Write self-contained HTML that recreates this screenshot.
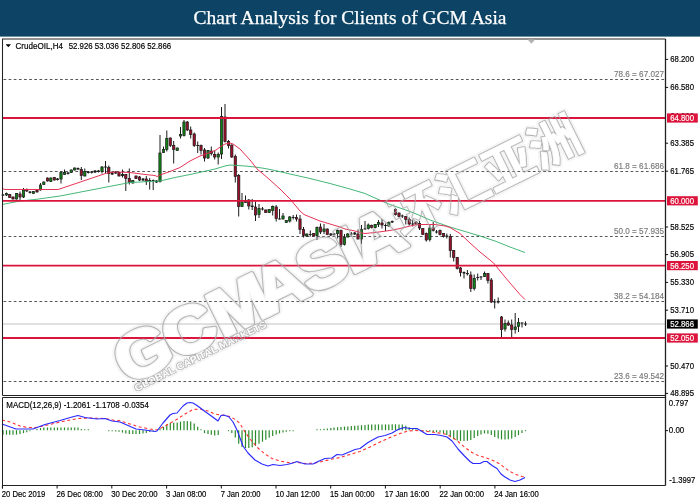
<!DOCTYPE html>
<html><head><meta charset="utf-8"><title>Chart Analysis for Clients of GCM Asia</title>
<style>
html,body{margin:0;padding:0;background:#fff;}
body{width:700px;height:500px;overflow:hidden;font-family:"Liberation Sans","Noto Sans CJK SC",sans-serif;}
svg{display:block}
.ax{font-family:"Liberation Sans",sans-serif;font-size:9.2px;fill:#000;stroke:#000;stroke-width:0.18px}
.fib{font-family:"Liberation Sans",sans-serif;font-size:9.2px;fill:#787878;stroke:#787878;stroke-width:0.15px}
.ttl{font-family:"Liberation Serif",serif;font-size:18.8px;fill:#fff;stroke:#fff;stroke-width:0.25px}
.wm{font-family:"Liberation Sans","Noto Sans CJK SC",sans-serif;font-weight:bold}
</style></head><body>
<svg width="700" height="500" viewBox="0 0 700 500">
<rect x="0" y="0" width="700" height="500" fill="#fff"/>
<rect x="0" y="0" width="700" height="36.6" fill="#0d4465"/>
<text class="ttl" x="350" y="24.4" text-anchor="middle" textLength="313" lengthAdjust="spacingAndGlyphs">Chart Analysis for Clients of GCM Asia</text>

<g stroke="#383838" stroke-width="0.85" stroke-dasharray="2.7,2.44" fill="none">
<line x1="3.5" y1="79.5" x2="665.5" y2="79.5"/>
<line x1="3.5" y1="171.5" x2="665.5" y2="171.5"/>
<line x1="3.5" y1="236.5" x2="665.5" y2="236.5"/>
<line x1="3.5" y1="301.5" x2="665.5" y2="301.5"/>
<line x1="3.5" y1="381.5" x2="665.5" y2="381.5"/>
</g>
<text class="fib" x="664" y="77.1" text-anchor="end" textLength="50" lengthAdjust="spacingAndGlyphs">78.6 = 67.027</text>
<text class="fib" x="664" y="169.1" text-anchor="end" textLength="50" lengthAdjust="spacingAndGlyphs">61.8 = 61.686</text>
<text class="fib" x="664" y="234.1" text-anchor="end" textLength="50" lengthAdjust="spacingAndGlyphs">50.0 = 57.935</text>
<text class="fib" x="664" y="299.1" text-anchor="end" textLength="50" lengthAdjust="spacingAndGlyphs">38.2 = 54.184</text>
<text class="fib" x="664" y="379.1" text-anchor="end" textLength="50" lengthAdjust="spacingAndGlyphs">23.6 = 49.542</text>
<line x1="2.5" y1="324" x2="665.5" y2="324" stroke="#c4c4c4" stroke-width="1.1"/>
<g>
<line x1="3" y1="194" x2="3" y2="196" stroke="#1c1c1c" stroke-width="1"/>
<rect x="1.6" y="194.5" width="2.8" height="1.0" fill="#1c1c1c"/>
<line x1="6.5" y1="192.5" x2="6.5" y2="196" stroke="#1c1c1c" stroke-width="1"/>
<rect x="5.35" y="193.5" width="2.3" height="1.5" fill="#0d8212" stroke="#1c1c1c" stroke-width="0.7"/>
<line x1="9.7" y1="194" x2="9.7" y2="198" stroke="#1c1c1c" stroke-width="1"/>
<rect x="8.55" y="194.5" width="2.3" height="3.0" fill="#9a0f28" stroke="#1c1c1c" stroke-width="0.7"/>
<line x1="13" y1="196.5" x2="13" y2="199.5" stroke="#1c1c1c" stroke-width="1"/>
<rect x="11.85" y="197" width="2.3" height="2.0" fill="#9a0f28" stroke="#1c1c1c" stroke-width="0.7"/>
<line x1="16.5" y1="193" x2="16.5" y2="199.5" stroke="#1c1c1c" stroke-width="1"/>
<rect x="15.35" y="193.5" width="2.3" height="5.5" fill="#0d8212" stroke="#1c1c1c" stroke-width="0.7"/>
<line x1="20" y1="191.5" x2="20" y2="200" stroke="#1c1c1c" stroke-width="1"/>
<rect x="18.85" y="194" width="2.3" height="3.0" fill="#9a0f28" stroke="#1c1c1c" stroke-width="0.7"/>
<line x1="23.5" y1="188" x2="23.5" y2="198" stroke="#1c1c1c" stroke-width="1"/>
<rect x="22.35" y="190" width="2.3" height="7.0" fill="#0d8212" stroke="#1c1c1c" stroke-width="0.7"/>
<line x1="26.8" y1="188.5" x2="26.8" y2="192" stroke="#1c1c1c" stroke-width="1"/>
<rect x="25.65" y="189.5" width="2.3" height="1.5" fill="#9a0f28" stroke="#1c1c1c" stroke-width="0.7"/>
<line x1="30" y1="191" x2="30" y2="193.5" stroke="#1c1c1c" stroke-width="1"/>
<rect x="28.6" y="191.5" width="2.8" height="1.5" fill="#1c1c1c"/>
<line x1="33.5" y1="191" x2="33.5" y2="194" stroke="#1c1c1c" stroke-width="1"/>
<rect x="32.35" y="191.5" width="2.3" height="2.0" fill="#0d8212" stroke="#1c1c1c" stroke-width="0.7"/>
<line x1="37" y1="189.5" x2="37" y2="192.5" stroke="#1c1c1c" stroke-width="1"/>
<rect x="35.85" y="190" width="2.3" height="2.0" fill="#9a0f28" stroke="#1c1c1c" stroke-width="0.7"/>
<line x1="40.5" y1="183" x2="40.5" y2="190.5" stroke="#1c1c1c" stroke-width="1"/>
<rect x="39.35" y="185" width="2.3" height="5.0" fill="#0d8212" stroke="#1c1c1c" stroke-width="0.7"/>
<line x1="43.8" y1="181.5" x2="43.8" y2="185" stroke="#1c1c1c" stroke-width="1"/>
<rect x="42.65" y="182" width="2.3" height="2.5" fill="#0d8212" stroke="#1c1c1c" stroke-width="0.7"/>
<line x1="47.5" y1="177.5" x2="47.5" y2="181.5" stroke="#1c1c1c" stroke-width="1"/>
<rect x="46.35" y="178" width="2.3" height="3.0" fill="#9a0f28" stroke="#1c1c1c" stroke-width="0.7"/>
<line x1="50.8" y1="177.5" x2="50.8" y2="182" stroke="#1c1c1c" stroke-width="1"/>
<rect x="49.65" y="178" width="2.3" height="3.5" fill="#0d8212" stroke="#1c1c1c" stroke-width="0.7"/>
<line x1="54.3" y1="177" x2="54.3" y2="180.5" stroke="#1c1c1c" stroke-width="1"/>
<rect x="53.15" y="177.5" width="2.3" height="2.5" fill="#9a0f28" stroke="#1c1c1c" stroke-width="0.7"/>
<line x1="57.5" y1="178" x2="57.5" y2="180.5" stroke="#1c1c1c" stroke-width="1"/>
<rect x="56.1" y="178.5" width="2.8" height="1.5" fill="#1c1c1c"/>
<line x1="61" y1="171.5" x2="61" y2="183.5" stroke="#1c1c1c" stroke-width="1"/>
<rect x="59.85" y="172.5" width="2.3" height="6.5" fill="#0d8212" stroke="#1c1c1c" stroke-width="0.7"/>
<line x1="64.5" y1="169.5" x2="64.5" y2="175" stroke="#1c1c1c" stroke-width="1"/>
<rect x="63.35" y="172.5" width="2.3" height="2.0" fill="#0d8212" stroke="#1c1c1c" stroke-width="0.7"/>
<line x1="68" y1="172" x2="68" y2="174.5" stroke="#1c1c1c" stroke-width="1"/>
<rect x="66.6" y="172.5" width="2.8" height="1.5" fill="#1c1c1c"/>
<line x1="71.2" y1="169.5" x2="71.2" y2="173" stroke="#1c1c1c" stroke-width="1"/>
<rect x="70.05" y="170" width="2.3" height="2.5" fill="#0d8212" stroke="#1c1c1c" stroke-width="0.7"/>
<line x1="74.7" y1="167.5" x2="74.7" y2="170.5" stroke="#1c1c1c" stroke-width="1"/>
<rect x="73.55" y="168" width="2.3" height="2.0" fill="#0d8212" stroke="#1c1c1c" stroke-width="0.7"/>
<line x1="78" y1="167.5" x2="78" y2="170" stroke="#1c1c1c" stroke-width="1"/>
<rect x="76.6" y="168" width="2.8" height="1.5" fill="#1c1c1c"/>
<line x1="81.3" y1="167" x2="81.3" y2="180" stroke="#1c1c1c" stroke-width="1"/>
<rect x="80.15" y="169.5" width="2.3" height="6.0" fill="#9a0f28" stroke="#1c1c1c" stroke-width="0.7"/>
<line x1="84.8" y1="168.5" x2="84.8" y2="176.5" stroke="#1c1c1c" stroke-width="1"/>
<rect x="83.65" y="171.5" width="2.3" height="4.5" fill="#0d8212" stroke="#1c1c1c" stroke-width="0.7"/>
<line x1="88.3" y1="171" x2="88.3" y2="173.5" stroke="#1c1c1c" stroke-width="1"/>
<rect x="86.9" y="171.5" width="2.8" height="1.5" fill="#1c1c1c"/>
<line x1="91.7" y1="171" x2="91.7" y2="173.5" stroke="#1c1c1c" stroke-width="1"/>
<rect x="90.3" y="171.5" width="2.8" height="1.3" fill="#1c1c1c"/>
<line x1="95" y1="170" x2="95" y2="173" stroke="#1c1c1c" stroke-width="1"/>
<rect x="93.6" y="170.5" width="2.8" height="2.0" fill="#1c1c1c"/>
<line x1="98.5" y1="170" x2="98.5" y2="172.5" stroke="#1c1c1c" stroke-width="1"/>
<rect x="97.1" y="170.5" width="2.8" height="1.5" fill="#1c1c1c"/>
<line x1="102" y1="166" x2="102" y2="173.5" stroke="#1c1c1c" stroke-width="1"/>
<rect x="100.85" y="167" width="2.3" height="4.5" fill="#0d8212" stroke="#1c1c1c" stroke-width="0.7"/>
<line x1="105.5" y1="161" x2="105.5" y2="173" stroke="#1c1c1c" stroke-width="1"/>
<rect x="104.1" y="166.5" width="2.8" height="1.0" fill="#1c1c1c"/>
<line x1="108.8" y1="165.5" x2="108.8" y2="182.5" stroke="#1c1c1c" stroke-width="1"/>
<rect x="107.65" y="167.5" width="2.3" height="6.0" fill="#9a0f28" stroke="#1c1c1c" stroke-width="0.7"/>
<line x1="112.2" y1="172" x2="112.2" y2="175" stroke="#1c1c1c" stroke-width="1"/>
<rect x="110.8" y="172.5" width="2.8" height="2.0" fill="#1c1c1c"/>
<line x1="115.7" y1="171" x2="115.7" y2="174" stroke="#1c1c1c" stroke-width="1"/>
<rect x="114.3" y="171.5" width="2.8" height="2.0" fill="#1c1c1c"/>
<line x1="119" y1="172" x2="119" y2="176.5" stroke="#1c1c1c" stroke-width="1"/>
<rect x="117.85" y="172.5" width="2.3" height="3.5" fill="#9a0f28" stroke="#1c1c1c" stroke-width="0.7"/>
<line x1="122.5" y1="169.5" x2="122.5" y2="177.5" stroke="#1c1c1c" stroke-width="1"/>
<rect x="121.1" y="174" width="2.8" height="2.0" fill="#1c1c1c"/>
<line x1="125.8" y1="174" x2="125.8" y2="191" stroke="#1c1c1c" stroke-width="1"/>
<rect x="124.65" y="174.5" width="2.3" height="4.0" fill="#9a0f28" stroke="#1c1c1c" stroke-width="0.7"/>
<line x1="129.3" y1="168.5" x2="129.3" y2="184.5" stroke="#1c1c1c" stroke-width="1"/>
<rect x="128.15" y="178.5" width="2.3" height="4.0" fill="#9a0f28" stroke="#1c1c1c" stroke-width="0.7"/>
<line x1="132.8" y1="180" x2="132.8" y2="183.5" stroke="#1c1c1c" stroke-width="1"/>
<rect x="131.65" y="180.5" width="2.3" height="2.5" fill="#0d8212" stroke="#1c1c1c" stroke-width="0.7"/>
<line x1="136" y1="175.5" x2="136" y2="179" stroke="#1c1c1c" stroke-width="1"/>
<rect x="134.85" y="176" width="2.3" height="2.5" fill="#9a0f28" stroke="#1c1c1c" stroke-width="0.7"/>
<line x1="139.5" y1="176" x2="139.5" y2="181" stroke="#1c1c1c" stroke-width="1"/>
<rect x="138.35" y="177" width="2.3" height="3.0" fill="#9a0f28" stroke="#1c1c1c" stroke-width="0.7"/>
<line x1="143" y1="178" x2="143" y2="181" stroke="#1c1c1c" stroke-width="1"/>
<rect x="141.6" y="178.5" width="2.8" height="2.0" fill="#1c1c1c"/>
<line x1="146.3" y1="176" x2="146.3" y2="185" stroke="#1c1c1c" stroke-width="1"/>
<rect x="145.15" y="179" width="2.3" height="2.5" fill="#9a0f28" stroke="#1c1c1c" stroke-width="0.7"/>
<line x1="149.7" y1="178" x2="149.7" y2="189.5" stroke="#1c1c1c" stroke-width="1"/>
<rect x="148.3" y="180" width="2.8" height="1.5" fill="#1c1c1c"/>
<line x1="153.2" y1="179.5" x2="153.2" y2="190" stroke="#1c1c1c" stroke-width="1"/>
<rect x="151.8" y="180" width="2.8" height="1.0" fill="#1c1c1c"/>
<line x1="156.5" y1="180" x2="156.5" y2="183" stroke="#1c1c1c" stroke-width="1"/>
<rect x="155.1" y="180.5" width="2.8" height="2.0" fill="#1c1c1c"/>
<line x1="160" y1="135" x2="160" y2="182.5" stroke="#1c1c1c" stroke-width="1"/>
<rect x="158.85" y="153" width="2.3" height="28.5" fill="#0d8212" stroke="#1c1c1c" stroke-width="0.7"/>
<line x1="163.5" y1="146.5" x2="163.5" y2="153" stroke="#1c1c1c" stroke-width="1"/>
<rect x="162.35" y="149.5" width="2.3" height="3.0" fill="#0d8212" stroke="#1c1c1c" stroke-width="0.7"/>
<line x1="166.8" y1="130.5" x2="166.8" y2="151.5" stroke="#1c1c1c" stroke-width="1"/>
<rect x="165.65" y="138.5" width="2.3" height="11.0" fill="#0d8212" stroke="#1c1c1c" stroke-width="0.7"/>
<line x1="170.3" y1="137.5" x2="170.3" y2="147" stroke="#1c1c1c" stroke-width="1"/>
<rect x="169.15" y="138" width="2.3" height="7.5" fill="#9a0f28" stroke="#1c1c1c" stroke-width="0.7"/>
<line x1="173.7" y1="141" x2="173.7" y2="163.5" stroke="#1c1c1c" stroke-width="1"/>
<rect x="172.55" y="145.5" width="2.3" height="4.0" fill="#9a0f28" stroke="#1c1c1c" stroke-width="0.7"/>
<line x1="177.2" y1="147.5" x2="177.2" y2="151" stroke="#1c1c1c" stroke-width="1"/>
<rect x="176.05" y="148" width="2.3" height="2.5" fill="#0d8212" stroke="#1c1c1c" stroke-width="0.7"/>
<line x1="180.5" y1="127" x2="180.5" y2="138.5" stroke="#1c1c1c" stroke-width="1"/>
<rect x="179.35" y="134.5" width="2.3" height="1.5" fill="#0d8212" stroke="#1c1c1c" stroke-width="0.7"/>
<line x1="184" y1="120" x2="184" y2="136.5" stroke="#1c1c1c" stroke-width="1"/>
<rect x="182.85" y="122" width="2.3" height="13.5" fill="#0d8212" stroke="#1c1c1c" stroke-width="0.7"/>
<line x1="187.3" y1="121" x2="187.3" y2="131" stroke="#1c1c1c" stroke-width="1"/>
<rect x="186.15" y="122" width="2.3" height="8.0" fill="#9a0f28" stroke="#1c1c1c" stroke-width="0.7"/>
<line x1="190.7" y1="126.5" x2="190.7" y2="138.5" stroke="#1c1c1c" stroke-width="1"/>
<rect x="189.55" y="130" width="2.3" height="4.5" fill="#9a0f28" stroke="#1c1c1c" stroke-width="0.7"/>
<line x1="194.2" y1="132.5" x2="194.2" y2="147" stroke="#1c1c1c" stroke-width="1"/>
<rect x="193.05" y="134" width="2.3" height="11.5" fill="#9a0f28" stroke="#1c1c1c" stroke-width="0.7"/>
<line x1="197.7" y1="141.5" x2="197.7" y2="153" stroke="#1c1c1c" stroke-width="1"/>
<rect x="196.3" y="145" width="2.8" height="1.0" fill="#1c1c1c"/>
<line x1="201" y1="144.5" x2="201" y2="154.5" stroke="#1c1c1c" stroke-width="1"/>
<rect x="199.85" y="145.5" width="2.3" height="5.0" fill="#9a0f28" stroke="#1c1c1c" stroke-width="0.7"/>
<line x1="204.5" y1="148" x2="204.5" y2="161.5" stroke="#1c1c1c" stroke-width="1"/>
<rect x="203.35" y="150" width="2.3" height="8.0" fill="#9a0f28" stroke="#1c1c1c" stroke-width="0.7"/>
<line x1="208" y1="150" x2="208" y2="159" stroke="#1c1c1c" stroke-width="1"/>
<rect x="206.85" y="150.5" width="2.3" height="7.5" fill="#0d8212" stroke="#1c1c1c" stroke-width="0.7"/>
<line x1="211.3" y1="146.5" x2="211.3" y2="155.5" stroke="#1c1c1c" stroke-width="1"/>
<rect x="210.15" y="151" width="2.3" height="2.5" fill="#9a0f28" stroke="#1c1c1c" stroke-width="0.7"/>
<line x1="214.7" y1="151" x2="214.7" y2="159.5" stroke="#1c1c1c" stroke-width="1"/>
<rect x="213.55" y="154.5" width="2.3" height="2.5" fill="#9a0f28" stroke="#1c1c1c" stroke-width="0.7"/>
<line x1="218.2" y1="152.5" x2="218.2" y2="164.5" stroke="#1c1c1c" stroke-width="1"/>
<rect x="217.05" y="154.5" width="2.3" height="2.5" fill="#0d8212" stroke="#1c1c1c" stroke-width="0.7"/>
<line x1="221.5" y1="107" x2="221.5" y2="159" stroke="#1c1c1c" stroke-width="1"/>
<rect x="220.35" y="116.5" width="2.3" height="37.5" fill="#0d8212" stroke="#1c1c1c" stroke-width="0.7"/>
<line x1="225" y1="104" x2="225" y2="142.5" stroke="#1c1c1c" stroke-width="1"/>
<rect x="223.85" y="117" width="2.3" height="24.5" fill="#9a0f28" stroke="#1c1c1c" stroke-width="0.7"/>
<line x1="228.5" y1="140" x2="228.5" y2="148.5" stroke="#1c1c1c" stroke-width="1"/>
<rect x="227.35" y="141.5" width="2.3" height="4.0" fill="#9a0f28" stroke="#1c1c1c" stroke-width="0.7"/>
<line x1="231.8" y1="144.5" x2="231.8" y2="158" stroke="#1c1c1c" stroke-width="1"/>
<rect x="230.65" y="145" width="2.3" height="12.0" fill="#9a0f28" stroke="#1c1c1c" stroke-width="0.7"/>
<line x1="235.3" y1="154.5" x2="235.3" y2="182.5" stroke="#1c1c1c" stroke-width="1"/>
<rect x="234.15" y="156.5" width="2.3" height="20.0" fill="#9a0f28" stroke="#1c1c1c" stroke-width="0.7"/>
<line x1="238.7" y1="174" x2="238.7" y2="216.5" stroke="#1c1c1c" stroke-width="1"/>
<rect x="237.55" y="175.5" width="2.3" height="31.0" fill="#9a0f28" stroke="#1c1c1c" stroke-width="0.7"/>
<line x1="242" y1="193" x2="242" y2="207" stroke="#1c1c1c" stroke-width="1"/>
<rect x="240.85" y="202" width="2.3" height="4.5" fill="#0d8212" stroke="#1c1c1c" stroke-width="0.7"/>
<line x1="245.5" y1="195.5" x2="245.5" y2="203" stroke="#1c1c1c" stroke-width="1"/>
<rect x="244.35" y="200.5" width="2.3" height="2.0" fill="#0d8212" stroke="#1c1c1c" stroke-width="0.7"/>
<line x1="248.8" y1="199" x2="248.8" y2="209.5" stroke="#1c1c1c" stroke-width="1"/>
<rect x="247.65" y="200" width="2.3" height="6.0" fill="#9a0f28" stroke="#1c1c1c" stroke-width="0.7"/>
<line x1="252.2" y1="199" x2="252.2" y2="210" stroke="#1c1c1c" stroke-width="1"/>
<rect x="250.8" y="205.5" width="2.8" height="1.5" fill="#1c1c1c"/>
<line x1="255.5" y1="201.5" x2="255.5" y2="221" stroke="#1c1c1c" stroke-width="1"/>
<rect x="254.35" y="207" width="2.3" height="8.0" fill="#9a0f28" stroke="#1c1c1c" stroke-width="0.7"/>
<line x1="259" y1="204" x2="259" y2="218" stroke="#1c1c1c" stroke-width="1"/>
<rect x="257.85" y="208.5" width="2.3" height="6.0" fill="#0d8212" stroke="#1c1c1c" stroke-width="0.7"/>
<line x1="262.5" y1="207" x2="262.5" y2="210.5" stroke="#1c1c1c" stroke-width="1"/>
<rect x="261.1" y="208.5" width="2.8" height="1.0" fill="#1c1c1c"/>
<line x1="265.8" y1="209.5" x2="265.8" y2="213" stroke="#1c1c1c" stroke-width="1"/>
<rect x="264.65" y="210" width="2.3" height="2.5" fill="#9a0f28" stroke="#1c1c1c" stroke-width="0.7"/>
<line x1="269.2" y1="209" x2="269.2" y2="213" stroke="#1c1c1c" stroke-width="1"/>
<rect x="268.05" y="209.5" width="2.3" height="3.0" fill="#0d8212" stroke="#1c1c1c" stroke-width="0.7"/>
<line x1="272.7" y1="205.5" x2="272.7" y2="215.5" stroke="#1c1c1c" stroke-width="1"/>
<rect x="271.55" y="206.5" width="2.3" height="4.0" fill="#0d8212" stroke="#1c1c1c" stroke-width="0.7"/>
<line x1="276.2" y1="205" x2="276.2" y2="221.5" stroke="#1c1c1c" stroke-width="1"/>
<rect x="275.05" y="207" width="2.3" height="11.5" fill="#9a0f28" stroke="#1c1c1c" stroke-width="0.7"/>
<line x1="279.5" y1="209" x2="279.5" y2="219.5" stroke="#1c1c1c" stroke-width="1"/>
<rect x="278.1" y="218.5" width="2.8" height="1.0" fill="#1c1c1c"/>
<line x1="283" y1="213" x2="283" y2="219.5" stroke="#1c1c1c" stroke-width="1"/>
<rect x="281.85" y="216" width="2.3" height="3.0" fill="#0d8212" stroke="#1c1c1c" stroke-width="0.7"/>
<line x1="286.3" y1="220" x2="286.3" y2="223" stroke="#1c1c1c" stroke-width="1"/>
<rect x="285.15" y="220.5" width="2.3" height="2.0" fill="#0d8212" stroke="#1c1c1c" stroke-width="0.7"/>
<line x1="289.8" y1="216" x2="289.8" y2="222.5" stroke="#1c1c1c" stroke-width="1"/>
<rect x="288.65" y="217" width="2.3" height="4.0" fill="#0d8212" stroke="#1c1c1c" stroke-width="0.7"/>
<line x1="293.2" y1="215" x2="293.2" y2="219.5" stroke="#1c1c1c" stroke-width="1"/>
<rect x="291.8" y="217" width="2.8" height="1.0" fill="#1c1c1c"/>
<line x1="296.5" y1="214.5" x2="296.5" y2="221.5" stroke="#1c1c1c" stroke-width="1"/>
<rect x="295.35" y="217.5" width="2.3" height="1.5" fill="#9a0f28" stroke="#1c1c1c" stroke-width="0.7"/>
<line x1="300" y1="215" x2="300" y2="234" stroke="#1c1c1c" stroke-width="1"/>
<rect x="298.85" y="219" width="2.3" height="10.5" fill="#9a0f28" stroke="#1c1c1c" stroke-width="0.7"/>
<line x1="303.5" y1="227" x2="303.5" y2="237.5" stroke="#1c1c1c" stroke-width="1"/>
<rect x="302.35" y="229.5" width="2.3" height="6.0" fill="#9a0f28" stroke="#1c1c1c" stroke-width="0.7"/>
<line x1="306.8" y1="233.5" x2="306.8" y2="237" stroke="#1c1c1c" stroke-width="1"/>
<rect x="305.65" y="234" width="2.3" height="2.0" fill="#0d8212" stroke="#1c1c1c" stroke-width="0.7"/>
<line x1="310.3" y1="230.5" x2="310.3" y2="236.5" stroke="#1c1c1c" stroke-width="1"/>
<rect x="308.9" y="234" width="2.8" height="1.0" fill="#1c1c1c"/>
<line x1="313.7" y1="233" x2="313.7" y2="236.5" stroke="#1c1c1c" stroke-width="1"/>
<rect x="312.55" y="233.5" width="2.3" height="2.5" fill="#9a0f28" stroke="#1c1c1c" stroke-width="0.7"/>
<line x1="317" y1="226.5" x2="317" y2="240" stroke="#1c1c1c" stroke-width="1"/>
<rect x="315.85" y="227.5" width="2.3" height="8.0" fill="#0d8212" stroke="#1c1c1c" stroke-width="0.7"/>
<line x1="320.5" y1="223.5" x2="320.5" y2="234" stroke="#1c1c1c" stroke-width="1"/>
<rect x="319.35" y="227" width="2.3" height="5.0" fill="#9a0f28" stroke="#1c1c1c" stroke-width="0.7"/>
<line x1="324" y1="224" x2="324" y2="234" stroke="#1c1c1c" stroke-width="1"/>
<rect x="322.85" y="229" width="2.3" height="2.5" fill="#0d8212" stroke="#1c1c1c" stroke-width="0.7"/>
<line x1="327.3" y1="228.5" x2="327.3" y2="235" stroke="#1c1c1c" stroke-width="1"/>
<rect x="326.15" y="229" width="2.3" height="5.5" fill="#9a0f28" stroke="#1c1c1c" stroke-width="0.7"/>
<line x1="330.8" y1="233" x2="330.8" y2="236" stroke="#1c1c1c" stroke-width="1"/>
<rect x="329.4" y="233.5" width="2.8" height="2.0" fill="#1c1c1c"/>
<line x1="334" y1="233" x2="334" y2="235.5" stroke="#1c1c1c" stroke-width="1"/>
<rect x="332.6" y="233.5" width="2.8" height="1.5" fill="#1c1c1c"/>
<line x1="337.6" y1="229.5" x2="337.6" y2="238.5" stroke="#1c1c1c" stroke-width="1"/>
<rect x="336.45" y="230.5" width="2.3" height="3.0" fill="#0d8212" stroke="#1c1c1c" stroke-width="0.7"/>
<line x1="341" y1="229.5" x2="341" y2="247" stroke="#1c1c1c" stroke-width="1"/>
<rect x="339.85" y="230.5" width="2.3" height="14.0" fill="#9a0f28" stroke="#1c1c1c" stroke-width="0.7"/>
<line x1="344.5" y1="234" x2="344.5" y2="245.5" stroke="#1c1c1c" stroke-width="1"/>
<rect x="343.35" y="237.5" width="2.3" height="7.0" fill="#0d8212" stroke="#1c1c1c" stroke-width="0.7"/>
<line x1="347.8" y1="233" x2="347.8" y2="237.5" stroke="#1c1c1c" stroke-width="1"/>
<rect x="346.65" y="234" width="2.3" height="3.0" fill="#0d8212" stroke="#1c1c1c" stroke-width="0.7"/>
<line x1="351.3" y1="232" x2="351.3" y2="236.5" stroke="#1c1c1c" stroke-width="1"/>
<rect x="349.9" y="233.5" width="2.8" height="1.0" fill="#1c1c1c"/>
<line x1="354.7" y1="232" x2="354.7" y2="235" stroke="#1c1c1c" stroke-width="1"/>
<rect x="353.3" y="232.5" width="2.8" height="2.0" fill="#1c1c1c"/>
<line x1="358" y1="229.5" x2="358" y2="239.5" stroke="#1c1c1c" stroke-width="1"/>
<rect x="356.85" y="234" width="2.3" height="5.0" fill="#9a0f28" stroke="#1c1c1c" stroke-width="0.7"/>
<line x1="361.5" y1="225" x2="361.5" y2="244" stroke="#1c1c1c" stroke-width="1"/>
<rect x="360.35" y="229.5" width="2.3" height="9.5" fill="#0d8212" stroke="#1c1c1c" stroke-width="0.7"/>
<line x1="365" y1="221" x2="365" y2="229.5" stroke="#1c1c1c" stroke-width="1"/>
<rect x="363.6" y="228.5" width="2.8" height="1.0" fill="#1c1c1c"/>
<line x1="368.3" y1="223.5" x2="368.3" y2="229.5" stroke="#1c1c1c" stroke-width="1"/>
<rect x="367.15" y="225" width="2.3" height="3.5" fill="#0d8212" stroke="#1c1c1c" stroke-width="0.7"/>
<line x1="371.7" y1="224.5" x2="371.7" y2="228.5" stroke="#1c1c1c" stroke-width="1"/>
<rect x="370.55" y="225.5" width="2.3" height="2.0" fill="#9a0f28" stroke="#1c1c1c" stroke-width="0.7"/>
<line x1="375.2" y1="224" x2="375.2" y2="228.5" stroke="#1c1c1c" stroke-width="1"/>
<rect x="374.05" y="224.5" width="2.3" height="3.0" fill="#0d8212" stroke="#1c1c1c" stroke-width="0.7"/>
<line x1="378.5" y1="220" x2="378.5" y2="227" stroke="#1c1c1c" stroke-width="1"/>
<rect x="377.35" y="222.5" width="2.3" height="2.0" fill="#0d8212" stroke="#1c1c1c" stroke-width="0.7"/>
<line x1="382" y1="219" x2="382" y2="228.5" stroke="#1c1c1c" stroke-width="1"/>
<rect x="380.85" y="223" width="2.3" height="2.0" fill="#9a0f28" stroke="#1c1c1c" stroke-width="0.7"/>
<line x1="385.5" y1="223.5" x2="385.5" y2="231" stroke="#1c1c1c" stroke-width="1"/>
<rect x="384.1" y="225" width="2.8" height="1.0" fill="#1c1c1c"/>
<line x1="388.8" y1="221.5" x2="388.8" y2="226.5" stroke="#1c1c1c" stroke-width="1"/>
<rect x="387.65" y="222.5" width="2.3" height="3.5" fill="#0d8212" stroke="#1c1c1c" stroke-width="0.7"/>
<line x1="392.2" y1="220.5" x2="392.2" y2="223" stroke="#1c1c1c" stroke-width="1"/>
<rect x="390.8" y="221" width="2.8" height="1.5" fill="#1c1c1c"/>
<line x1="395.5" y1="208" x2="395.5" y2="215.5" stroke="#1c1c1c" stroke-width="1"/>
<rect x="394.35" y="209.5" width="2.3" height="5.0" fill="#9a0f28" stroke="#1c1c1c" stroke-width="0.7"/>
<line x1="399" y1="212.5" x2="399" y2="217.5" stroke="#1c1c1c" stroke-width="1"/>
<rect x="397.85" y="213" width="2.3" height="3.5" fill="#9a0f28" stroke="#1c1c1c" stroke-width="0.7"/>
<line x1="402.3" y1="214.5" x2="402.3" y2="218" stroke="#1c1c1c" stroke-width="1"/>
<rect x="400.9" y="215.5" width="2.8" height="1.0" fill="#1c1c1c"/>
<line x1="405.8" y1="216" x2="405.8" y2="224.5" stroke="#1c1c1c" stroke-width="1"/>
<rect x="404.65" y="216.5" width="2.3" height="3.0" fill="#9a0f28" stroke="#1c1c1c" stroke-width="0.7"/>
<line x1="409.2" y1="217.5" x2="409.2" y2="225.5" stroke="#1c1c1c" stroke-width="1"/>
<rect x="408.05" y="219.5" width="2.3" height="4.5" fill="#9a0f28" stroke="#1c1c1c" stroke-width="0.7"/>
<line x1="412.7" y1="220" x2="412.7" y2="226.5" stroke="#1c1c1c" stroke-width="1"/>
<rect x="411.3" y="223.5" width="2.8" height="1.0" fill="#1c1c1c"/>
<line x1="416" y1="221.5" x2="416" y2="224.5" stroke="#1c1c1c" stroke-width="1"/>
<rect x="414.85" y="222" width="2.3" height="2.0" fill="#9a0f28" stroke="#1c1c1c" stroke-width="0.7"/>
<line x1="419.5" y1="221" x2="419.5" y2="230" stroke="#1c1c1c" stroke-width="1"/>
<rect x="418.35" y="223.5" width="2.3" height="4.5" fill="#9a0f28" stroke="#1c1c1c" stroke-width="0.7"/>
<line x1="422.8" y1="228" x2="422.8" y2="235" stroke="#1c1c1c" stroke-width="1"/>
<rect x="421.65" y="228.5" width="2.3" height="6.0" fill="#9a0f28" stroke="#1c1c1c" stroke-width="0.7"/>
<line x1="426.3" y1="232.5" x2="426.3" y2="241.5" stroke="#1c1c1c" stroke-width="1"/>
<rect x="425.15" y="233.5" width="2.3" height="6.5" fill="#9a0f28" stroke="#1c1c1c" stroke-width="0.7"/>
<line x1="429.8" y1="225" x2="429.8" y2="241.5" stroke="#1c1c1c" stroke-width="1"/>
<rect x="428.65" y="228" width="2.3" height="11.5" fill="#0d8212" stroke="#1c1c1c" stroke-width="0.7"/>
<line x1="433.2" y1="222" x2="433.2" y2="231.5" stroke="#1c1c1c" stroke-width="1"/>
<rect x="432.05" y="228" width="2.3" height="2.5" fill="#9a0f28" stroke="#1c1c1c" stroke-width="0.7"/>
<line x1="436.5" y1="230" x2="436.5" y2="233.5" stroke="#1c1c1c" stroke-width="1"/>
<rect x="435.1" y="231.5" width="2.8" height="1.0" fill="#1c1c1c"/>
<line x1="440" y1="229.5" x2="440" y2="235.5" stroke="#1c1c1c" stroke-width="1"/>
<rect x="438.85" y="230.5" width="2.3" height="4.0" fill="#9a0f28" stroke="#1c1c1c" stroke-width="0.7"/>
<line x1="443.5" y1="233" x2="443.5" y2="237.5" stroke="#1c1c1c" stroke-width="1"/>
<rect x="442.35" y="233.5" width="2.3" height="3.0" fill="#9a0f28" stroke="#1c1c1c" stroke-width="0.7"/>
<line x1="446.8" y1="233.5" x2="446.8" y2="238.5" stroke="#1c1c1c" stroke-width="1"/>
<rect x="445.4" y="235.5" width="2.8" height="1.0" fill="#1c1c1c"/>
<line x1="450.3" y1="234" x2="450.3" y2="257.5" stroke="#1c1c1c" stroke-width="1"/>
<rect x="449.15" y="236.5" width="2.3" height="14.0" fill="#9a0f28" stroke="#1c1c1c" stroke-width="0.7"/>
<line x1="453.7" y1="250" x2="453.7" y2="261.5" stroke="#1c1c1c" stroke-width="1"/>
<rect x="452.55" y="250.5" width="2.3" height="7.0" fill="#9a0f28" stroke="#1c1c1c" stroke-width="0.7"/>
<line x1="457.2" y1="257" x2="457.2" y2="269.5" stroke="#1c1c1c" stroke-width="1"/>
<rect x="456.05" y="257.5" width="2.3" height="11.0" fill="#9a0f28" stroke="#1c1c1c" stroke-width="0.7"/>
<line x1="460.5" y1="267" x2="460.5" y2="276.5" stroke="#1c1c1c" stroke-width="1"/>
<rect x="459.35" y="268" width="2.3" height="4.5" fill="#9a0f28" stroke="#1c1c1c" stroke-width="0.7"/>
<line x1="464" y1="271.5" x2="464" y2="278.5" stroke="#1c1c1c" stroke-width="1"/>
<rect x="462.6" y="272" width="2.8" height="1.5" fill="#1c1c1c"/>
<line x1="467.4" y1="270" x2="467.4" y2="275.5" stroke="#1c1c1c" stroke-width="1"/>
<rect x="466.0" y="273" width="2.8" height="1.2" fill="#1c1c1c"/>
<line x1="470.8" y1="271.5" x2="470.8" y2="292" stroke="#1c1c1c" stroke-width="1"/>
<rect x="469.65" y="275" width="2.3" height="13.5" fill="#9a0f28" stroke="#1c1c1c" stroke-width="0.7"/>
<line x1="474.2" y1="274.5" x2="474.2" y2="290.5" stroke="#1c1c1c" stroke-width="1"/>
<rect x="473.05" y="278.5" width="2.3" height="10.0" fill="#0d8212" stroke="#1c1c1c" stroke-width="0.7"/>
<line x1="477.7" y1="273.5" x2="477.7" y2="280.5" stroke="#1c1c1c" stroke-width="1"/>
<rect x="476.3" y="277" width="2.8" height="1.0" fill="#1c1c1c"/>
<line x1="481" y1="276" x2="481" y2="280" stroke="#1c1c1c" stroke-width="1"/>
<rect x="479.6" y="276.5" width="2.8" height="1.0" fill="#1c1c1c"/>
<line x1="484.5" y1="271.5" x2="484.5" y2="277" stroke="#1c1c1c" stroke-width="1"/>
<rect x="483.35" y="273.5" width="2.3" height="3.0" fill="#0d8212" stroke="#1c1c1c" stroke-width="0.7"/>
<line x1="487.9" y1="273" x2="487.9" y2="283.5" stroke="#1c1c1c" stroke-width="1"/>
<rect x="486.75" y="273.5" width="2.3" height="7.0" fill="#9a0f28" stroke="#1c1c1c" stroke-width="0.7"/>
<line x1="491.3" y1="278" x2="491.3" y2="303" stroke="#1c1c1c" stroke-width="1"/>
<rect x="490.15" y="280" width="2.3" height="22.0" fill="#9a0f28" stroke="#1c1c1c" stroke-width="0.7"/>
<line x1="494.7" y1="299" x2="494.7" y2="308.5" stroke="#1c1c1c" stroke-width="1"/>
<rect x="493.3" y="301.5" width="2.8" height="1.0" fill="#1c1c1c"/>
<line x1="498.2" y1="297.5" x2="498.2" y2="303.5" stroke="#1c1c1c" stroke-width="1"/>
<rect x="496.8" y="301" width="2.8" height="1.5" fill="#1c1c1c"/>
<line x1="501.5" y1="316" x2="501.5" y2="337.5" stroke="#1c1c1c" stroke-width="1"/>
<rect x="500.35" y="317" width="2.3" height="12.5" fill="#9a0f28" stroke="#1c1c1c" stroke-width="0.7"/>
<line x1="505" y1="319.5" x2="505" y2="331.5" stroke="#1c1c1c" stroke-width="1"/>
<rect x="503.85" y="323.5" width="2.3" height="5.5" fill="#0d8212" stroke="#1c1c1c" stroke-width="0.7"/>
<line x1="508.3" y1="320.5" x2="508.3" y2="326" stroke="#1c1c1c" stroke-width="1"/>
<rect x="507.15" y="323" width="2.3" height="2.0" fill="#9a0f28" stroke="#1c1c1c" stroke-width="0.7"/>
<line x1="511.7" y1="319.5" x2="511.7" y2="337.5" stroke="#1c1c1c" stroke-width="1"/>
<rect x="510.55" y="325" width="2.3" height="4.5" fill="#9a0f28" stroke="#1c1c1c" stroke-width="0.7"/>
<line x1="515.2" y1="313" x2="515.2" y2="333.5" stroke="#1c1c1c" stroke-width="1"/>
<rect x="514.05" y="327" width="2.3" height="2.5" fill="#0d8212" stroke="#1c1c1c" stroke-width="0.7"/>
<line x1="518.5" y1="318" x2="518.5" y2="332" stroke="#1c1c1c" stroke-width="1"/>
<rect x="517.35" y="322.5" width="2.3" height="4.0" fill="#0d8212" stroke="#1c1c1c" stroke-width="0.7"/>
<line x1="522" y1="322.5" x2="522" y2="327.5" stroke="#1c1c1c" stroke-width="1"/>
<rect x="520.6" y="322.5" width="2.8" height="1.0" fill="#1c1c1c"/>
<line x1="525.5" y1="321.5" x2="525.5" y2="326" stroke="#1c1c1c" stroke-width="1"/>
<rect x="524.1" y="323.5" width="2.8" height="1.0" fill="#1c1c1c"/>
</g>
<polyline points="2.0,204.5 20.0,201.0 35.0,199.5 60.0,196.0 130.0,182.5 150.0,181.5 160.0,181.0 175.0,177.5 190.0,174.5 215.0,169.0 225.0,166.0 230.0,165.0 245.0,166.0 255.0,167.0 265.0,168.5 275.0,170.5 290.0,174.0 310.0,178.5 330.0,183.5 350.0,189.0 365.0,193.5 375.0,198.0 383.0,201.5 390.0,204.5 400.0,208.0 410.0,211.5 420.0,215.5 430.0,220.0 440.0,223.5 450.0,227.0 460.0,230.0 480.0,236.0 495.0,241.0 510.0,247.0 525.0,252.5" fill="none" stroke="#3cb371" stroke-width="0.95" stroke-linejoin="round"/>
<polyline points="2.0,188.5 5.0,189.5 58.0,189.5 70.0,185.5 107.0,173.0 115.0,172.0 130.0,172.5 145.0,174.5 155.0,175.5 157.0,176.5 160.0,175.0 170.0,171.5 180.0,167.5 190.0,161.0 200.0,156.0 210.0,152.5 216.0,150.0 220.0,147.0 225.0,144.0 230.0,143.0 233.0,144.0 240.0,149.0 250.0,160.0 258.0,170.0 262.0,173.0 270.0,180.0 280.0,189.0 288.0,197.0 291.0,200.0 295.0,205.0 300.0,211.0 304.0,214.5 310.0,217.0 320.0,221.0 330.0,224.0 340.0,227.0 345.0,229.0 355.0,231.0 362.0,233.0 365.0,233.5 375.0,232.5 390.0,230.5 400.0,228.5 410.0,226.0 415.0,225.0 420.0,224.5 435.0,224.5 445.0,226.0 450.0,227.5 455.0,230.5 460.0,233.5 470.0,243.0 480.0,252.0 490.0,260.0 495.0,264.5 500.0,271.0 510.0,283.0 520.0,294.5 525.0,299.5" fill="none" stroke="#e5294e" stroke-width="0.95" stroke-linejoin="round"/>
<line x1="2.5" y1="118.0" x2="665.5" y2="118.0" stroke="#dc143c" stroke-width="1.8"/>
<line x1="2.5" y1="200.8" x2="665.5" y2="200.8" stroke="#dc143c" stroke-width="1.8"/>
<line x1="2.5" y1="265.6" x2="665.5" y2="265.6" stroke="#dc143c" stroke-width="1.8"/>
<line x1="2.5" y1="338.0" x2="665.5" y2="338.0" stroke="#dc143c" stroke-width="1.8"/>
<g stroke="#2a8a2a" stroke-width="1.2">
<line x1="3" y1="430.2" x2="3" y2="434.7"/>
<line x1="6.5" y1="430.2" x2="6.5" y2="434.7"/>
<line x1="9.7" y1="430.2" x2="9.7" y2="434.7"/>
<line x1="13" y1="430.2" x2="13" y2="434.7"/>
<line x1="16.5" y1="430.2" x2="16.5" y2="434.6"/>
<line x1="20" y1="430.2" x2="20" y2="434.0"/>
<line x1="23.5" y1="430.2" x2="23.5" y2="433.1"/>
<line x1="26.8" y1="430.2" x2="26.8" y2="432.3"/>
<line x1="30" y1="430.2" x2="30" y2="431.3"/>
<line x1="37" y1="430.2" x2="37" y2="429.0"/>
<line x1="40.5" y1="430.2" x2="40.5" y2="428.1"/>
<line x1="43.8" y1="430.2" x2="43.8" y2="427.6"/>
<line x1="47.5" y1="430.2" x2="47.5" y2="427.5"/>
<line x1="50.8" y1="430.2" x2="50.8" y2="427.5"/>
<line x1="54.3" y1="430.2" x2="54.3" y2="427.5"/>
<line x1="57.5" y1="430.2" x2="57.5" y2="427.5"/>
<line x1="61" y1="430.2" x2="61" y2="427.5"/>
<line x1="64.5" y1="430.2" x2="64.5" y2="427.5"/>
<line x1="68" y1="430.2" x2="68" y2="427.5"/>
<line x1="71.2" y1="430.2" x2="71.2" y2="427.5"/>
<line x1="74.7" y1="430.2" x2="74.7" y2="427.5"/>
<line x1="78" y1="430.2" x2="78" y2="427.5"/>
<line x1="81.3" y1="430.2" x2="81.3" y2="429.0"/>
<line x1="84.8" y1="430.2" x2="84.8" y2="429.2"/>
<line x1="88.3" y1="430.2" x2="88.3" y2="429.2"/>
<line x1="108.8" y1="430.2" x2="108.8" y2="431.2"/>
<line x1="112.2" y1="430.2" x2="112.2" y2="431.2"/>
<line x1="115.7" y1="430.2" x2="115.7" y2="431.4"/>
<line x1="119" y1="430.2" x2="119" y2="431.8"/>
<line x1="122.5" y1="430.2" x2="122.5" y2="432.6"/>
<line x1="125.8" y1="430.2" x2="125.8" y2="433.4"/>
<line x1="129.3" y1="430.2" x2="129.3" y2="434.0"/>
<line x1="132.8" y1="430.2" x2="132.8" y2="434.0"/>
<line x1="136" y1="430.2" x2="136" y2="434.0"/>
<line x1="139.5" y1="430.2" x2="139.5" y2="434.0"/>
<line x1="143" y1="430.2" x2="143" y2="433.5"/>
<line x1="146.3" y1="430.2" x2="146.3" y2="432.9"/>
<line x1="149.7" y1="430.2" x2="149.7" y2="432.1"/>
<line x1="153.2" y1="430.2" x2="153.2" y2="431.2"/>
<line x1="160" y1="430.2" x2="160" y2="428.5"/>
<line x1="163.5" y1="430.2" x2="163.5" y2="426.7"/>
<line x1="166.8" y1="430.2" x2="166.8" y2="424.6"/>
<line x1="170.3" y1="430.2" x2="170.3" y2="423.0"/>
<line x1="173.7" y1="430.2" x2="173.7" y2="422.7"/>
<line x1="177.2" y1="430.2" x2="177.2" y2="422.4"/>
<line x1="180.5" y1="430.2" x2="180.5" y2="421.6"/>
<line x1="184" y1="430.2" x2="184" y2="421.0"/>
<line x1="187.3" y1="430.2" x2="187.3" y2="421.0"/>
<line x1="190.7" y1="430.2" x2="190.7" y2="421.4"/>
<line x1="194.2" y1="430.2" x2="194.2" y2="423.6"/>
<line x1="197.7" y1="430.2" x2="197.7" y2="426.7"/>
<line x1="201" y1="430.2" x2="201" y2="429.2"/>
<line x1="204.5" y1="430.2" x2="204.5" y2="433.1"/>
<line x1="208" y1="430.2" x2="208" y2="434.0"/>
<line x1="211.3" y1="430.2" x2="211.3" y2="434.8"/>
<line x1="214.7" y1="430.2" x2="214.7" y2="435.4"/>
<line x1="218.2" y1="430.2" x2="218.2" y2="435.1"/>
<line x1="228.5" y1="430.2" x2="228.5" y2="431.2"/>
<line x1="231.8" y1="430.2" x2="231.8" y2="432.9"/>
<line x1="235.3" y1="430.2" x2="235.3" y2="437.6"/>
<line x1="238.7" y1="430.2" x2="238.7" y2="443.7"/>
<line x1="242" y1="430.2" x2="242" y2="447.0"/>
<line x1="245.5" y1="430.2" x2="245.5" y2="448.0"/>
<line x1="248.8" y1="430.2" x2="248.8" y2="448.0"/>
<line x1="252.2" y1="430.2" x2="252.2" y2="447.3"/>
<line x1="255.5" y1="430.2" x2="255.5" y2="445.8"/>
<line x1="259" y1="430.2" x2="259" y2="443.8"/>
<line x1="262.5" y1="430.2" x2="262.5" y2="441.7"/>
<line x1="265.8" y1="430.2" x2="265.8" y2="439.7"/>
<line x1="269.2" y1="430.2" x2="269.2" y2="437.8"/>
<line x1="272.7" y1="430.2" x2="272.7" y2="436.0"/>
<line x1="276.2" y1="430.2" x2="276.2" y2="434.6"/>
<line x1="279.5" y1="430.2" x2="279.5" y2="433.5"/>
<line x1="283" y1="430.2" x2="283" y2="432.5"/>
<line x1="286.3" y1="430.2" x2="286.3" y2="431.8"/>
<line x1="289.8" y1="430.2" x2="289.8" y2="431.2"/>
<line x1="293.2" y1="430.2" x2="293.2" y2="431.2"/>
<line x1="317" y1="430.2" x2="317" y2="429.2"/>
<line x1="320.5" y1="430.2" x2="320.5" y2="429.2"/>
<line x1="324" y1="430.2" x2="324" y2="428.8"/>
<line x1="327.3" y1="430.2" x2="327.3" y2="428.4"/>
<line x1="330.8" y1="430.2" x2="330.8" y2="428.0"/>
<line x1="334" y1="430.2" x2="334" y2="427.6"/>
<line x1="337.6" y1="430.2" x2="337.6" y2="427.2"/>
<line x1="341" y1="430.2" x2="341" y2="426.9"/>
<line x1="344.5" y1="430.2" x2="344.5" y2="426.6"/>
<line x1="347.8" y1="430.2" x2="347.8" y2="426.4"/>
<line x1="351.3" y1="430.2" x2="351.3" y2="426.1"/>
<line x1="354.7" y1="430.2" x2="354.7" y2="425.8"/>
<line x1="358" y1="430.2" x2="358" y2="425.5"/>
<line x1="361.5" y1="430.2" x2="361.5" y2="425.2"/>
<line x1="365" y1="430.2" x2="365" y2="424.9"/>
<line x1="368.3" y1="430.2" x2="368.3" y2="424.6"/>
<line x1="371.7" y1="430.2" x2="371.7" y2="424.5"/>
<line x1="375.2" y1="430.2" x2="375.2" y2="424.5"/>
<line x1="378.5" y1="430.2" x2="378.5" y2="424.4"/>
<line x1="382" y1="430.2" x2="382" y2="424.4"/>
<line x1="385.5" y1="430.2" x2="385.5" y2="424.4"/>
<line x1="388.8" y1="430.2" x2="388.8" y2="424.4"/>
<line x1="392.2" y1="430.2" x2="392.2" y2="424.3"/>
<line x1="395.5" y1="430.2" x2="395.5" y2="424.3"/>
<line x1="399" y1="430.2" x2="399" y2="424.4"/>
<line x1="402.3" y1="430.2" x2="402.3" y2="424.6"/>
<line x1="405.8" y1="430.2" x2="405.8" y2="425.8"/>
<line x1="409.2" y1="430.2" x2="409.2" y2="427.2"/>
<line x1="412.7" y1="430.2" x2="412.7" y2="428.3"/>
<line x1="416" y1="430.2" x2="416" y2="429.2"/>
<line x1="422.8" y1="430.2" x2="422.8" y2="431.2"/>
<line x1="426.3" y1="430.2" x2="426.3" y2="431.2"/>
<line x1="429.8" y1="430.2" x2="429.8" y2="431.7"/>
<line x1="433.2" y1="430.2" x2="433.2" y2="432.1"/>
<line x1="436.5" y1="430.2" x2="436.5" y2="432.3"/>
<line x1="440" y1="430.2" x2="440" y2="432.5"/>
<line x1="443.5" y1="430.2" x2="443.5" y2="433.6"/>
<line x1="446.8" y1="430.2" x2="446.8" y2="435.1"/>
<line x1="450.3" y1="430.2" x2="450.3" y2="437.2"/>
<line x1="453.7" y1="430.2" x2="453.7" y2="439.2"/>
<line x1="457.2" y1="430.2" x2="457.2" y2="440.4"/>
<line x1="460.5" y1="430.2" x2="460.5" y2="441.0"/>
<line x1="464" y1="430.2" x2="464" y2="441.0"/>
<line x1="467.4" y1="430.2" x2="467.4" y2="440.8"/>
<line x1="470.8" y1="430.2" x2="470.8" y2="440.0"/>
<line x1="474.2" y1="430.2" x2="474.2" y2="437.9"/>
<line x1="477.7" y1="430.2" x2="477.7" y2="436.1"/>
<line x1="481" y1="430.2" x2="481" y2="434.5"/>
<line x1="484.5" y1="430.2" x2="484.5" y2="433.4"/>
<line x1="487.9" y1="430.2" x2="487.9" y2="433.7"/>
<line x1="491.3" y1="430.2" x2="491.3" y2="435.1"/>
<line x1="494.7" y1="430.2" x2="494.7" y2="436.9"/>
<line x1="498.2" y1="430.2" x2="498.2" y2="438.6"/>
<line x1="501.5" y1="430.2" x2="501.5" y2="439.4"/>
<line x1="505" y1="430.2" x2="505" y2="439.5"/>
<line x1="508.3" y1="430.2" x2="508.3" y2="439.2"/>
<line x1="511.7" y1="430.2" x2="511.7" y2="438.4"/>
<line x1="515.2" y1="430.2" x2="515.2" y2="436.9"/>
<line x1="518.5" y1="430.2" x2="518.5" y2="435.2"/>
<line x1="522" y1="430.2" x2="522" y2="433.0"/>
<line x1="525.5" y1="430.2" x2="525.5" y2="431.2"/>
</g>
<polyline points="2.0,420.0 10.0,422.0 20.0,426.0 28.0,427.5 36.0,427.5 50.0,424.5 65.0,421.0 78.0,418.5 90.0,418.0 105.0,418.5 115.0,420.5 120.0,420.8 130.0,424.0 140.0,427.0 150.0,429.0 157.0,430.0 165.0,426.0 175.0,420.5 185.0,414.0 193.0,409.5 200.0,409.0 208.0,411.0 215.0,414.0 221.0,415.0 230.0,416.5 236.0,420.0 240.0,423.5 245.0,432.0 250.0,439.0 258.0,448.0 265.0,454.0 272.0,458.5 280.0,461.0 288.0,462.5 298.0,462.5 306.0,463.5 315.0,463.0 322.0,461.5 330.0,459.5 340.0,457.5 350.0,454.5 360.0,451.5 370.0,447.0 380.0,442.0 390.0,437.5 400.0,433.5 408.0,431.0 415.0,430.5 425.0,431.0 435.0,432.5 445.0,434.0 452.0,437.0 458.0,441.5 465.0,447.5 472.0,452.5 478.0,455.5 485.0,457.5 492.0,460.0 500.0,464.0 505.0,468.0 510.0,471.5 516.0,474.5 522.0,476.5 525.0,477.0" fill="none" stroke="#ff2a2a" stroke-width="1.05" stroke-dasharray="3,2.6"/>
<polyline points="2.0,424.0 16.0,429.0 33.0,429.0 45.0,424.5 60.0,420.5 72.0,417.0 78.0,415.5 85.0,417.5 97.0,419.0 105.0,418.5 112.0,421.0 120.0,422.0 128.0,425.5 136.0,429.0 145.0,430.0 155.0,431.5 157.0,431.0 163.0,423.0 170.0,415.0 173.0,413.5 177.0,413.0 183.0,406.0 187.0,403.0 190.0,402.5 193.0,403.0 197.0,405.5 205.0,411.5 212.0,416.5 218.0,421.0 221.0,415.5 224.0,415.0 229.0,417.0 233.0,422.0 237.0,430.0 240.0,438.0 243.0,446.0 248.0,453.0 255.0,460.0 262.0,464.0 268.0,466.0 273.0,464.5 280.0,465.5 287.0,464.5 293.0,463.0 297.0,461.5 300.0,462.5 305.0,464.0 313.0,464.0 318.0,461.5 325.0,458.5 332.0,458.0 337.0,454.5 342.0,455.0 348.0,452.5 355.0,449.5 360.0,448.5 368.0,442.5 378.0,437.0 385.0,435.5 392.0,433.0 398.0,429.5 404.0,427.5 410.0,428.5 417.0,428.5 422.0,431.5 427.0,434.5 435.0,434.5 441.0,435.5 447.0,437.0 452.0,441.0 458.0,449.0 464.0,455.5 470.0,461.5 473.0,463.5 480.0,463.5 484.0,461.5 487.0,461.5 492.0,465.5 497.0,468.5 501.0,474.0 505.0,477.0 510.0,480.0 515.0,481.5 520.0,480.0 525.0,477.5" fill="none" stroke="#2a2aff" stroke-width="1.15" stroke-linejoin="round"/>
<defs><mask id="wmm" maskUnits="userSpaceOnUse" x="0" y="0" width="700" height="500">
<g class="wm" transform="translate(127.7,385.2) rotate(-26.4)" stroke-linejoin="round">
<g fill="#fff" stroke="#fff"><text x="0" y="0" transform="scale(1.1,1)" font-size="65" letter-spacing="-2.0" dx="0 0 2.5 -7.5 0 0 -3.5" stroke-width="5.4">GCMASIA</text>
<text x="312" y="-10" font-size="50" textLength="204" lengthAdjust="spacingAndGlyphs" stroke-width="2.3">环汇亚洲</text>
<text x="5" y="9.5" font-size="9.6" textLength="146" lengthAdjust="spacingAndGlyphs" stroke-width="1.5">GLOBAL CAPITAL MARKETS</text></g>
<g fill="#000" stroke="#000"><text x="0" y="0" transform="scale(1.1,1)" font-size="65" letter-spacing="-2.0" dx="0 0 2.5 -7.5 0 0 -3.5" stroke-width="3.6">GCMASIA</text>
<text x="312" y="-10" font-size="50" textLength="204" lengthAdjust="spacingAndGlyphs" stroke-width="0.6">环汇亚洲</text>
<text x="5" y="9.5" font-size="9.6" textLength="146" lengthAdjust="spacingAndGlyphs" stroke-width="0.2">GLOBAL CAPITAL MARKETS</text></g>
</g></mask>
<mask id="wms" maskUnits="userSpaceOnUse" x="0" y="0" width="700" height="500">
<g class="wm" transform="translate(127.7,385.2) rotate(-26.4)" stroke-linejoin="round">
<g fill="#fff" stroke="#fff"><text x="0" y="0" transform="scale(1.1,1)" font-size="65" letter-spacing="-2.0" dx="0 0 2.5 -7.5 0 0 -3.5" stroke-width="9.4">GCMASIA</text>
<text x="312" y="-10" font-size="50" textLength="204" lengthAdjust="spacingAndGlyphs" stroke-width="6.3">环汇亚洲</text>
<text x="5" y="9.5" font-size="9.6" textLength="146" lengthAdjust="spacingAndGlyphs" stroke-width="5.5">GLOBAL CAPITAL MARKETS</text></g>
<g fill="#000" stroke="#000"><text x="0" y="0" transform="scale(1.1,1)" font-size="65" letter-spacing="-2.0" dx="0 0 2.5 -7.5 0 0 -3.5" stroke-width="1.0">GCMASIA</text>
<text x="312" y="-10" font-size="50" textLength="204" lengthAdjust="spacingAndGlyphs" stroke-width="0">环汇亚洲</text>
<text x="5" y="9.5" font-size="9.6" textLength="146" lengthAdjust="spacingAndGlyphs" stroke-width="0">GLOBAL CAPITAL MARKETS</text></g>
</g></mask></defs>
<rect x="0" y="36" width="700" height="464" fill="#9a9a9a" fill-opacity="0.10" mask="url(#wms)"/>
<rect x="0" y="36" width="700" height="464" fill="#a6a6a6" fill-opacity="0.85" mask="url(#wmm)"/>
<g fill="none" stroke="#222" stroke-width="1.05">
<path d="M2.5,395.5 L2.5,39.0 L665.5,39.0"/>
<line x1="2.5" y1="395.5" x2="665.5" y2="395.5"/>
<line x1="2.5" y1="397.5" x2="665.5" y2="397.5"/>
<line x1="2.5" y1="397.5" x2="2.5" y2="488.5"/>
<line x1="2.5" y1="485.5" x2="665.5" y2="485.5"/>
<line x1="665.5" y1="39.0" x2="665.5" y2="485.5" stroke-width="1.3"/>
</g>
<g stroke="#111" stroke-width="1">
<line x1="665.5" y1="59.4" x2="668.1" y2="59.4"/>
<line x1="665.5" y1="87.4" x2="668.1" y2="87.4"/>
<line x1="665.5" y1="143.2" x2="668.1" y2="143.2"/>
<line x1="665.5" y1="171.2" x2="668.1" y2="171.2"/>
<line x1="665.5" y1="227.0" x2="668.1" y2="227.0"/>
<line x1="665.5" y1="254.6" x2="668.1" y2="254.6"/>
<line x1="665.5" y1="282.4" x2="668.1" y2="282.4"/>
<line x1="665.5" y1="310.2" x2="668.1" y2="310.2"/>
<line x1="665.5" y1="366.0" x2="668.1" y2="366.0"/>
<line x1="665.5" y1="393.4" x2="668.1" y2="393.4"/>
<line x1="665.5" y1="430.6" x2="668.1" y2="430.6"/>
</g>
<text class="ax" x="670.3" y="62.0" textLength="23.7" lengthAdjust="spacingAndGlyphs">68.200</text>
<text class="ax" x="670.3" y="90.0" textLength="23.7" lengthAdjust="spacingAndGlyphs">66.580</text>
<text class="ax" x="670.3" y="145.8" textLength="23.7" lengthAdjust="spacingAndGlyphs">63.385</text>
<text class="ax" x="670.3" y="173.8" textLength="23.7" lengthAdjust="spacingAndGlyphs">61.765</text>
<text class="ax" x="670.3" y="229.6" textLength="23.7" lengthAdjust="spacingAndGlyphs">58.525</text>
<text class="ax" x="670.3" y="257.2" textLength="23.7" lengthAdjust="spacingAndGlyphs">56.905</text>
<text class="ax" x="670.3" y="285.0" textLength="23.7" lengthAdjust="spacingAndGlyphs">55.330</text>
<text class="ax" x="670.3" y="312.8" textLength="23.7" lengthAdjust="spacingAndGlyphs">53.710</text>
<text class="ax" x="670.3" y="368.6" textLength="23.7" lengthAdjust="spacingAndGlyphs">50.470</text>
<text class="ax" x="670.3" y="396.0" textLength="23.7" lengthAdjust="spacingAndGlyphs">48.895</text>
<text class="ax" x="668.8" y="406.0" textLength="19.5" lengthAdjust="spacingAndGlyphs">0.797</text>
<text class="ax" x="668.8" y="433.0" textLength="15.5" lengthAdjust="spacingAndGlyphs">0.00</text>
<text class="ax" x="669.3" y="482.8" textLength="26" lengthAdjust="spacingAndGlyphs">-1.3997</text>
<text class="ax" x="670.3" y="118.5" textLength="23.7" lengthAdjust="spacingAndGlyphs">64.960</text>
<rect x="667" y="113.4" width="30.8" height="9.2" fill="#dc143c"/>
<text class="ax" x="670.3" y="121.3" style="fill:#fff;stroke:#fff" textLength="23.7" lengthAdjust="spacingAndGlyphs">64.800</text>
<rect x="667" y="196.2" width="30.8" height="9.2" fill="#dc143c"/>
<text class="ax" x="670.3" y="204.1" style="fill:#fff;stroke:#fff" textLength="23.7" lengthAdjust="spacingAndGlyphs">60.000</text>
<rect x="667" y="261.0" width="30.8" height="9.2" fill="#dc143c"/>
<text class="ax" x="670.3" y="268.9" style="fill:#fff;stroke:#fff" textLength="23.7" lengthAdjust="spacingAndGlyphs">56.250</text>
<rect x="667" y="319.4" width="30.8" height="9.2" fill="#000"/>
<text class="ax" x="670.3" y="327.3" style="fill:#fff;stroke:#fff" textLength="23.7" lengthAdjust="spacingAndGlyphs">52.866</text>
<rect x="667" y="333.4" width="30.8" height="9.2" fill="#dc143c"/>
<text class="ax" x="670.3" y="341.3" style="fill:#fff;stroke:#fff" textLength="23.7" lengthAdjust="spacingAndGlyphs">52.050</text>
<path d="M527.6,39.4 L535.2,39.4 L531.4,43.8 Z" fill="#b2b2b2"/>
<path d="M5.6,44.2 L11,44.2 L8.3,47.2 Z" fill="#000"/>
<text class="ax" x="15.5" y="48.9" textLength="47.5" lengthAdjust="spacingAndGlyphs">CrudeOIL,H4</text>
<text class="ax" x="68.7" y="48.9" textLength="102.5" lengthAdjust="spacingAndGlyphs">52.926 53.036 52.806 52.866</text>
<text class="ax" x="6.3" y="408.3" textLength="142.5" lengthAdjust="spacingAndGlyphs">MACD(12,26,9) -1.2061 -1.1708 -0.0354</text>
<line x1="2.4" y1="485.5" x2="2.4" y2="488.5" stroke="#111" stroke-width="1"/>
<text class="ax" x="1.8" y="496.8" textLength="43.6" lengthAdjust="spacingAndGlyphs">20 Dec 2019</text>
<line x1="57.1" y1="485.5" x2="57.1" y2="488.5" stroke="#111" stroke-width="1"/>
<text class="ax" x="56.5" y="496.8" textLength="46.4" lengthAdjust="spacingAndGlyphs">26 Dec 08:00</text>
<line x1="111.8" y1="485.5" x2="111.8" y2="488.5" stroke="#111" stroke-width="1"/>
<text class="ax" x="111.2" y="496.8" textLength="46.4" lengthAdjust="spacingAndGlyphs">30 Dec 20:00</text>
<line x1="166.6" y1="485.5" x2="166.6" y2="488.5" stroke="#111" stroke-width="1"/>
<text class="ax" x="166.0" y="496.8" textLength="40.4" lengthAdjust="spacingAndGlyphs">3 Jan 08:00</text>
<line x1="221.3" y1="485.5" x2="221.3" y2="488.5" stroke="#111" stroke-width="1"/>
<text class="ax" x="220.7" y="496.8" textLength="39.8" lengthAdjust="spacingAndGlyphs">7 Jan 20:00</text>
<line x1="276.0" y1="485.5" x2="276.0" y2="488.5" stroke="#111" stroke-width="1"/>
<text class="ax" x="275.4" y="496.8" textLength="44.4" lengthAdjust="spacingAndGlyphs">10 Jan 12:00</text>
<line x1="330.7" y1="485.5" x2="330.7" y2="488.5" stroke="#111" stroke-width="1"/>
<text class="ax" x="330.1" y="496.8" textLength="44.4" lengthAdjust="spacingAndGlyphs">15 Jan 00:00</text>
<line x1="385.4" y1="485.5" x2="385.4" y2="488.5" stroke="#111" stroke-width="1"/>
<text class="ax" x="384.8" y="496.8" textLength="44.4" lengthAdjust="spacingAndGlyphs">17 Jan 16:00</text>
<line x1="440.2" y1="485.5" x2="440.2" y2="488.5" stroke="#111" stroke-width="1"/>
<text class="ax" x="439.6" y="496.8" textLength="44.4" lengthAdjust="spacingAndGlyphs">22 Jan 00:00</text>
<line x1="494.9" y1="485.5" x2="494.9" y2="488.5" stroke="#111" stroke-width="1"/>
<text class="ax" x="494.3" y="496.8" textLength="44.4" lengthAdjust="spacingAndGlyphs">24 Jan 16:00</text>
</svg></body></html>
